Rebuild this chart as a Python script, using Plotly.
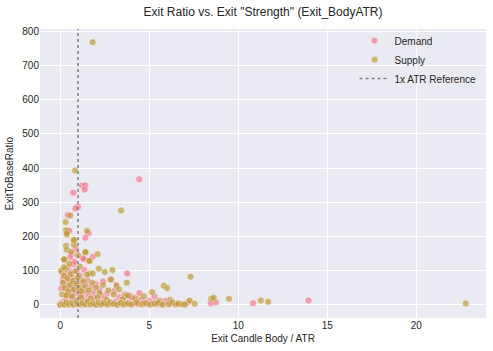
import plotly.graph_objects as go

# Demand series (Exit_BodyATR, ExitToBaseRatio)
demand_x = [4.43,1.22,1.41,1.37,0.73,1.0,0.85,0.43,0.43,0.5,1.6,1.41,0.88,1.82,1.35,3.76,3.15,4.45,5.3,3.94,5.92,7.17,8.45,8.75,10.83,13.95,
            0.1,0.2,0.3,0.35,0.4,0.45,0.5,0.55,0.6,0.65,0.7,0.75,0.8,0.85,0.9,0.95,1.0,1.05,1.1,1.15,1.2,1.3,1.35,1.45,1.55,1.7,1.85,2.0,2.2,2.4,2.6,2.86,3.0,2.3,0.66,0.79,1.28,0.25,0.55,0.15,0.05,0.3,0.45,0.7,1.25,1.6,1.9,2.5,3.3,3.6,4.0,4.5,5.0,
            0.0,0.1,0.2,0.3,0.4,0.5,0.6,0.7,0.8,0.9,1.0,1.1,1.2,1.3,1.45,1.6,1.75,1.9,2.05,2.2,2.35,2.5,2.7,2.9,3.1,3.3,3.5,3.7,3.9,4.2,4.4,4.7,4.9,5.2,5.45,5.7,6.2,6.6]
demand_y = [367,349,349,337,328,287,282,263,218,216,210,196,163,140,133,92,59,34,24,26,12,7,5,7,5,12.6,
            95,60,88,45,72,110,55,95,40,80,62,118,50,75,35,100,58,42,85,30,65,48,102,38,70,52,35,60,44,68,32,75,40,28,149,126,136,130,140,75,48,25,32,22,22,25,20,18,22,30,18,15,12,
            2,8,4,12,1,6,10,3,14,5,1,9,4,13,2,7,3,11,5,1,8,3,6,2,9,4,1,7,3,5,2,8,3,6,2,4,3,5]

# Supply series
supply_x = [1.82,0.83,3.42,0.56,0.3,0.32,0.38,1.5,0.81,0.77,0.32,0.36,1.43,2.1,0.24,1.65,2.16,2.5,2.93,2.83,3.74,5.82,6.01,5.16,7.32,9.48,11.27,11.68,22.78,8.49,8.62,7.27,6.18,5.58,3.64,0.36,0.75,1.41,0.21,1.63,1.63,1.82,3.17,
            0.05,0.15,0.2,0.25,0.3,0.4,0.45,0.5,0.55,0.6,0.7,0.75,0.85,0.9,1.0,1.05,1.1,1.2,1.3,1.4,1.5,1.6,1.8,2.0,2.2,2.4,2.7,3.0,3.3,3.8,4.2,4.7,0.1,0.35,0.65,1.15,1.7,2.1,2.6,3.5,1.0,0.6,0.2,
            0.0,0.15,0.25,0.35,0.5,0.65,0.75,0.9,1.0,1.15,1.25,1.4,1.55,1.7,1.85,2.0,2.15,2.3,2.45,2.65,2.8,3.0,3.2,3.4,3.6,3.8,4.0,4.3,4.6,4.8,5.05,5.3,5.5,5.75,6.08,6.3,6.5,6.65,6.85,7.0,7.55]
supply_y = [768,393,276,261,242,218,205,216,188,176,173,161,154,148,133,128,106,96,102,74,65,56,49,37,82,18,12.6,8.8,3.8,18,21,12.6,15,12,24,209,190,154,133,129,92,92,55,
            100,65,85,50,105,78,40,120,58,90,70,45,98,62,80,50,112,40,70,55,88,42,65,50,35,58,42,30,45,28,20,25,30,28,25,22,18,22,15,16,145,155,110,
            0,3,1,7,2,5,0,9,3,1,6,2,10,1,4,0,7,2,5,1,8,3,0,6,2,4,1,7,2,5,1,3,6,0,2,8,1,3,2,1,3]

ref_x = 1.0
x_ticks = [0, 5, 10, 15, 20]
y_ticks = [0, 100, 200, 300, 400, 500, 600, 700, 800]

DEMAND = "#f77189"
SUPPLY = "#bb9832"
FONT = "Liberation Sans, Arial, sans-serif"
TXT = "#262626"

allx = demand_x + supply_x
ally = demand_y + supply_y
xr = max(allx) - min(allx)
yr = max(ally) - min(ally)
x_range = [min(allx) - 0.05 * xr, max(allx) + 0.05 * xr]
y_range = [min(ally) - 0.05 * yr, max(ally) + 0.05 * yr]

fig = go.Figure()
fig.add_trace(go.Scatter(x=demand_x, y=demand_y, mode="markers", name="Demand",
                         marker=dict(color=DEMAND, size=7, opacity=0.65,
                                     line=dict(color="white", width=0.6))))
fig.add_trace(go.Scatter(x=supply_x, y=supply_y, mode="markers", name="Supply",
                         marker=dict(color=SUPPLY, size=7, opacity=0.65,
                                     line=dict(color="white", width=0.6))))
fig.add_trace(go.Scatter(x=[ref_x, ref_x], y=y_range, mode="lines", name="1x ATR Reference",
                         line=dict(color="#808080", width=1.5, dash="dot")))

fig.update_layout(
    width=493, height=351,
    margin=dict(l=40, r=7, t=29, b=33),
    paper_bgcolor="white", plot_bgcolor="#EAEAF2",
    font=dict(family=FONT, size=10, color=TXT),
    title=dict(text='Exit Ratio vs. Exit "Strength" (Exit_BodyATR)',
               x=0.5, xref="paper", xanchor="center", y=0.965, yanchor="middle",
               font=dict(size=12, color=TXT)),
    showlegend=True,
    legend=dict(x=0.99, y=1.01, xanchor="right", yanchor="top",
                bgcolor="rgba(0,0,0,0)", font=dict(size=10, color=TXT),
                itemwidth=30, tracegroupgap=0),
    xaxis=dict(range=x_range, tickvals=x_ticks, showgrid=True, gridcolor="white",
               gridwidth=1, zeroline=False, showline=False, ticks="",
               title=dict(text="Exit Candle Body / ATR", standoff=4, font=dict(size=10))),
    yaxis=dict(range=y_range, tickvals=y_ticks, showgrid=True, gridcolor="white",
               gridwidth=1, zeroline=False, showline=False, ticks="",
               title=dict(text="ExitToBaseRatio", standoff=6, font=dict(size=10))),
)

fig.write_html("out.html")
